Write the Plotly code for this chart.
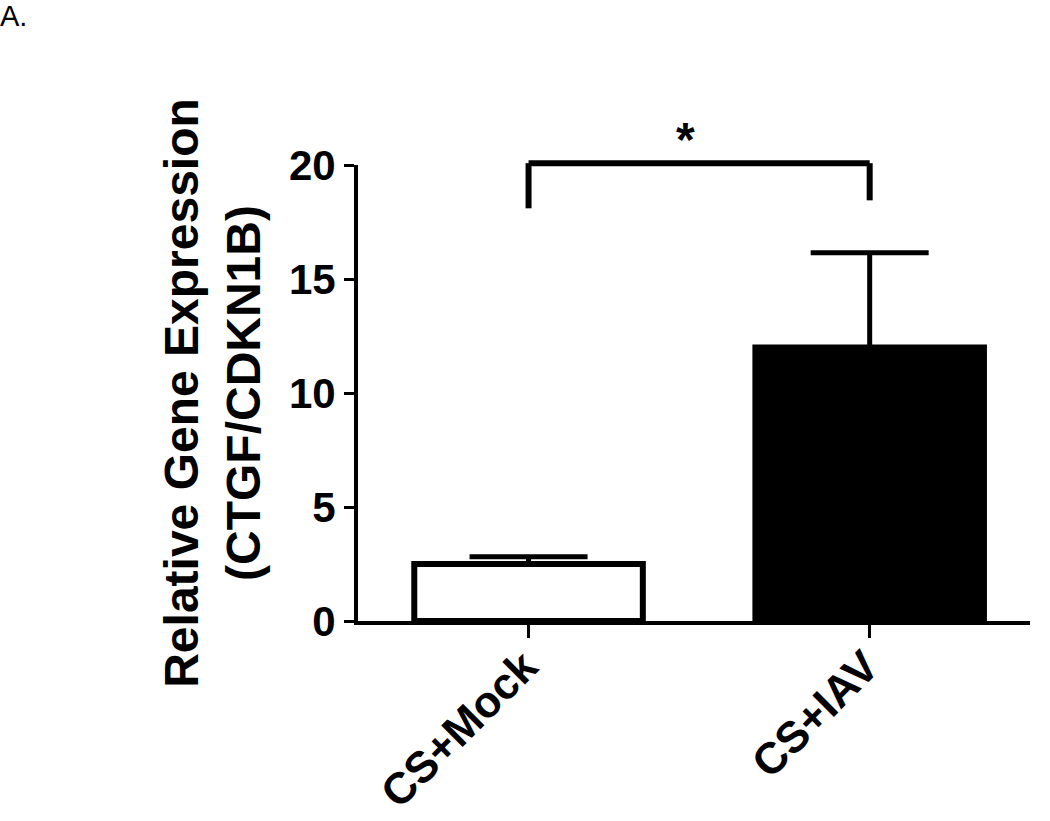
import plotly.graph_objects as go

# group means and upper SD
groups = ["CS+Mock", "CS+IAV"]
means = [2.5, 12.0]
sd_upper = [0.32, 4.15]
bar_fill = ["white", "black"]

# significance bracket (y values in data units)
sig_top = 20.08
sig_left_bottom = 18.1
sig_right_bottom = 18.45
sig_label = "*"

y_max = 20
y_ticks = [0, 5, 10, 15, 20]

FONT = "Liberation Sans, Arial, sans-serif"
W, H = 1050, 821
ML, MR, MT, MB = 358, 20, 165, 200
plot_w = W - ML - MR
plot_h = H - MT - MB

fig = go.Figure()

fig.add_trace(go.Bar(
    x=groups,
    y=means,
    width=0.67,
    marker=dict(color=bar_fill, line=dict(color="black", width=6)),
    error_y=dict(
        type="data",
        symmetric=False,
        array=sd_upper,
        arrayminus=[0, 0],
        color="black",
        thickness=5,
        width=59,
    ),
    showlegend=False,
))

# bracket, x in category units, y as fraction of the axis range
line_style = dict(color="black", width=6)
fig.add_shape(type="line", xref="x", yref="paper",
              x0=groups[0], x1=groups[1], y0=sig_top / y_max, y1=sig_top / y_max,
              line=line_style)
fig.add_shape(type="line", xref="x", yref="paper",
              x0=groups[0], x1=groups[0], y0=sig_left_bottom / y_max, y1=sig_top / y_max,
              line=line_style)
fig.add_shape(type="line", xref="x", yref="paper",
              x0=groups[1], x1=groups[1], y0=sig_right_bottom / y_max, y1=sig_top / y_max,
              line=line_style)

fig.add_annotation(
    x=0.46, xref="x", y=sig_top / y_max, yref="paper",
    text=sig_label, showarrow=False, yanchor="bottom", yshift=-5,
    font=dict(family=FONT, size=48, color="black", weight="bold"),
)

# panel letter in the top-left corner of the page
fig.add_annotation(
    x=-ML / plot_w, xref="paper", y=1 + MT / plot_h, yref="paper",
    xanchor="left", yanchor="top", yshift=2, xshift=-2,
    text="A.", showarrow=False,
    font=dict(family=FONT, size=29, color="black"),
)

fig.update_layout(
    width=W,
    height=H,
    margin=dict(l=ML, r=MR, t=MT, b=MB, autoexpand=False),
    paper_bgcolor="white",
    plot_bgcolor="white",
    xaxis=dict(
        type="category",
        range=[-0.5, 1.47],
        automargin=False,
        showline=True, linecolor="black", linewidth=4,
        ticks="outside", ticklen=13, tickwidth=3, tickcolor="black",
        tickangle=-45,
        ticklabelstandoff=-15,
        ticklabelshift=-4,
        tickfont=dict(family=FONT, size=44, color="black", weight="bold"),
        showgrid=False, zeroline=False,
    ),
    yaxis=dict(
        range=[0, y_max],
        tickvals=y_ticks,
        automargin=False,
        showline=True, linecolor="black", linewidth=4,
        ticks="outside", ticklen=10, tickwidth=3, tickcolor="black",
        tickfont=dict(family=FONT, size=42, color="black", weight="bold"),
        showgrid=False, zeroline=False,
        title=dict(
            text="Relative Gene Expression<br>(CTGF/CDKN1B)",
            font=dict(family=FONT, size=48, color="black", weight="bold"),
            standoff=14,
        ),
    ),
)

# drop the default page margin so the figure sits at the window's top-left corner
fig.write_html("out.html", config={"displayModeBar": False},
               post_script="document.body.style.margin='0px';")
